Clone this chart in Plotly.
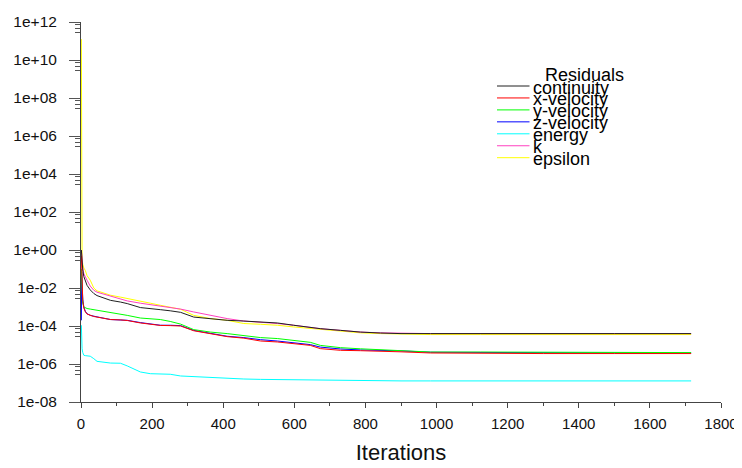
import numpy as np
import plotly.graph_objects as go

# Iteration numbers at which the residuals were read
iterations = [1, 2, 3, 5, 8, 12, 17, 26, 36, 45, 83, 111, 130, 167, 195, 223, 251, 280,
              317, 364, 411, 458, 505, 552, 598, 645, 673, 730, 786, 842, 900, 983,
              1124, 1300, 1500, 1716]

# log10 of residuals
continuity_log10 = [0.0, -0.35, -0.70, -1.05, -1.40, -1.65, -1.86, -2.10, -2.29, -2.40, -2.65,
                    -2.74, -2.82, -3.03, -3.10, -3.14, -3.20, -3.28, -3.53, -3.61, -3.70, -3.74,
                    -3.79, -3.84, -3.96, -4.08, -4.14, -4.23, -4.32, -4.37, -4.40, -4.40, -4.41,
                    -4.41, -4.40, -4.40]
x_velocity_log10 = [-0.30, -1.20, -2.00, -2.70, -3.05, -3.25, -3.37, -3.45, -3.50, -3.53, -3.66,
                    -3.68, -3.71, -3.84, -3.92, -3.97, -3.98, -4.00, -4.25, -4.42, -4.56, -4.64,
                    -4.79, -4.84, -4.93, -5.02, -5.19, -5.28, -5.30, -5.32, -5.36, -5.42, -5.44,
                    -5.45, -5.45, -5.45]
y_velocity_log10 = [-1.00, -1.80, -2.40, -2.80, -3.00, -3.05, -3.08, -3.11, -3.14, -3.17, -3.26,
                    -3.36, -3.44, -3.58, -3.63, -3.66, -3.76, -3.90, -4.19, -4.32, -4.40, -4.49,
                    -4.61, -4.66, -4.75, -4.86, -5.02, -5.14, -5.20, -5.24, -5.30, -5.37, -5.37,
                    -5.39, -5.40, -5.40]
z_velocity_log10 = [-3.70, -1.16, -1.80, -2.60, -3.00, -3.22, -3.35, -3.44, -3.49, -3.52, -3.66,
                    -3.68, -3.70, -3.82, -3.90, -3.96, -3.96, -3.98, -4.23, -4.40, -4.54, -4.61,
                    -4.72, -4.79, -4.89, -4.98, -5.11, -5.21, -5.26, -5.28, -5.31, -5.38, -5.40,
                    -5.41, -5.42, -5.42]
energy_log10 = [-3.96, -4.90, -5.20, -5.40, -5.54, -5.56, -5.58, -5.59, -5.72, -5.86, -5.95,
                -5.96, -6.10, -6.42, -6.51, -6.53, -6.54, -6.63, -6.67, -6.71, -6.77, -6.79,
                -6.81, -6.82, -6.84, -6.86, -6.87, -6.88, -6.89, -6.89, -6.89, -6.89, -6.89,
                -6.89, -6.89, -6.89]
k_log10 = [0.0, -0.37, -0.60, -0.95, -1.25, -1.45, -1.59, -1.90, -2.12, -2.22, -2.44,
           -2.58, -2.68, -2.80, -2.88, -2.96, -3.03, -3.11, -3.26, -3.44, -3.61, -3.74,
           -3.79, -3.87, -3.96, -4.08, -4.14, -4.23, -4.32, -4.36, -4.38, -4.40, -4.40,
           -4.40, -4.40, -4.40]
epsilon_log10 = [11.1, -0.19, -0.45, -0.75, -0.95, -1.07, -1.35, -1.59, -2.00, -2.15, -2.38,
                 -2.48, -2.56, -2.70, -2.80, -2.91, -3.00, -3.12, -3.44, -3.61, -3.70, -3.87,
                 -3.91, -3.96, -4.05, -4.12, -4.19, -4.28, -4.36, -4.40, -4.43, -4.45, -4.45,
                 -4.45, -4.45, -4.45]

series_names = ["continuity", "x-velocity", "y-velocity", "z-velocity", "energy", "k", "epsilon"]
series_logs = [continuity_log10, x_velocity_log10, y_velocity_log10, z_velocity_log10,
               energy_log10, k_log10, epsilon_log10]
series_colors = ["#202020", "#ff0000", "#00ff00", "#0000ff", "#00ffff", "#ff40c0", "#ffff00"]

y_tick_exps = list(range(12, -9, -2))
y_tick_vals = [10.0 ** e for e in y_tick_exps]
y_tick_text = ["1e%+03d" % e for e in y_tick_exps]
y_minor_vals = [10.0 ** e * f for e in y_tick_exps if e > -8 for f in (0.7, 0.48, 0.28)]
x_tick_vals = list(range(0, 1801, 200))

FONT = "Liberation Sans, Arial, sans-serif"

# the page body has an 8px margin, so the figure starts at (8, 8) in the window
OFF = 8
W, H = 742 - OFF, 468 - OFF
plot_l, plot_r, plot_t, plot_b = 81 - OFF, 721 - OFF, 22 - OFF, 402 - OFF

def px2paper_x(px):
    return (px - OFF - plot_l) / (plot_r - plot_l)

def px2paper_y(py):
    return (plot_b - (py - OFF)) / (plot_b - plot_t)

fig = go.Figure()
for name, logs, color in reversed(list(zip(series_names, series_logs, series_colors))):
    fig.add_trace(go.Scatter(
        x=iterations, y=10.0 ** np.array(logs), mode="lines", name=name,
        line=dict(color=color, width=1), showlegend=False,
    ))

# Legend drawn in Fluent style (tightly stacked entries)
annotations = [dict(text="Residuals", x=px2paper_x(543), y=px2paper_y(75), xref="paper",
                    yref="paper", xanchor="left", yanchor="middle", showarrow=False,
                    font=dict(family=FONT, size=18, color="#000"))]
shapes = []
for i, (name, color) in enumerate(zip(series_names, series_colors)):
    ly = 86 + i * 11.95
    shapes.append(dict(type="line", xref="paper", yref="paper",
                       x0=px2paper_x(497), x1=px2paper_x(529.5),
                       y0=px2paper_y(ly), y1=px2paper_y(ly),
                       line=dict(color=color, width=1)))
    annotations.append(dict(text=name, x=px2paper_x(531), y=px2paper_y(ly + 1.5),
                            xref="paper", yref="paper", xanchor="left", yanchor="middle",
                            showarrow=False, font=dict(family=FONT, size=18, color="#000")))

fig.update_layout(
    width=W, height=H,
    margin=dict(l=plot_l, r=W - plot_r, t=plot_t, b=H - plot_b, pad=0),
    paper_bgcolor="white", plot_bgcolor="white",
    font=dict(family=FONT, color="#111"),
    annotations=annotations, shapes=shapes,
    xaxis=dict(
        range=[0, 1800], tickmode="array", tickvals=x_tick_vals,
        ticks="outside", ticklen=5, tickcolor="#444", tickwidth=1,
        showline=True, linecolor="#444", linewidth=1, showgrid=False, zeroline=False,
        tickfont=dict(family=FONT, size=15, color="#111"), ticklabelstandoff=3,
        ticklabeloverflow="allow",
        minor=dict(dtick=100, tick0=0, ticks="outside", ticklen=3, tickcolor="#444"),
        title=dict(text="Iterations", font=dict(family=FONT, size=22, color="#111"), standoff=13),
        automargin=False,
    ),
    yaxis=dict(
        type="log", range=[-8, 12], tickmode="array", tickvals=y_tick_vals, ticktext=y_tick_text,
        ticks="outside", ticklen=11, tickcolor="#555", tickwidth=1,
        showline=True, linecolor="#444", linewidth=1, showgrid=False, zeroline=False,
        tickfont=dict(family=FONT, size=15.5, color="#111"), ticklabelstandoff=9,
        minor=dict(tickmode="array", tickvals=y_minor_vals, ticks="outside", ticklen=5,
                   tickcolor="#555"),
        automargin=False,
    ),
)

fig.write_html("out.html")
